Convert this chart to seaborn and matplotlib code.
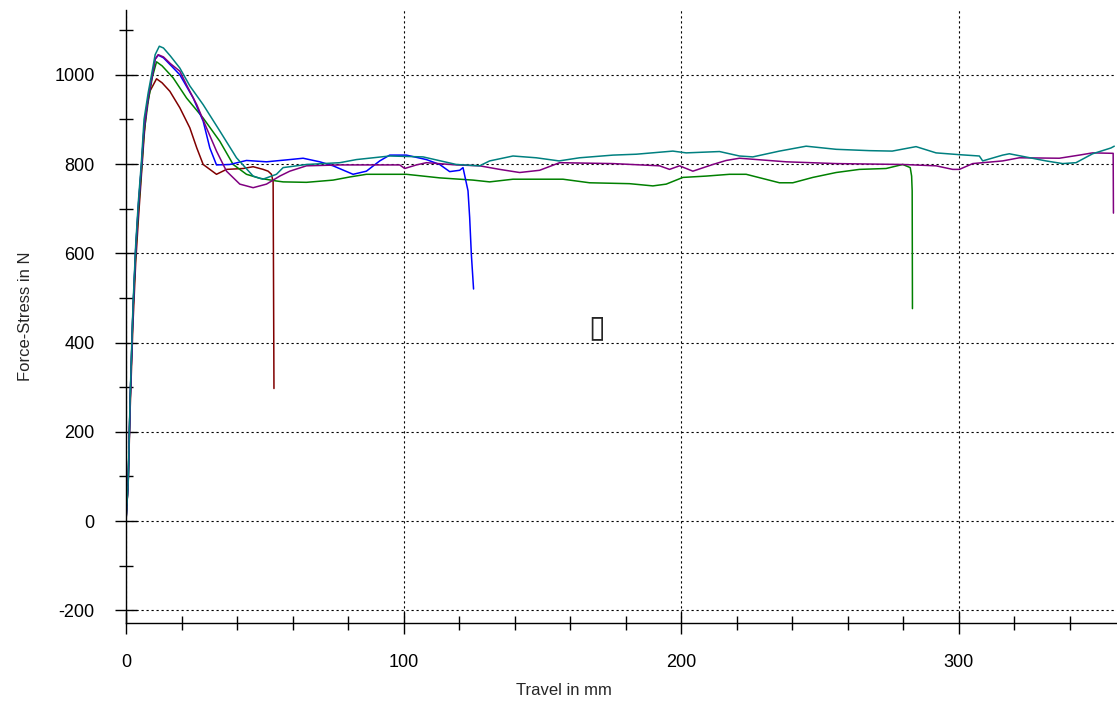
import numpy as np
import pandas as pd
import matplotlib
matplotlib.use('Agg')
import matplotlib.pyplot as plt
import seaborn as sns
from matplotlib.ticker import MultipleLocator

# travel (mm) / force (N), one pair of lists per sample
teal_x = [0, 0.8, 1.5, 2.5, 3.5, 4.5, 5.5, 6.5, 8, 9.2, 10.5, 12, 13.5, 16, 19.4, 23, 27.8, 33.8, 39.8,
          45.8, 49.3, 54.2, 56.6, 65, 77, 83, 95, 107, 119, 127.4, 131, 139.4, 147.8, 156, 163.4, 175.4,
          183.8, 197, 201.8, 213.8, 221, 225.8, 235.4, 245, 255.8, 267.8, 276, 284.6, 291.8, 300.2,
          307.4, 308.6, 315.8, 318.2, 331.4, 337.4, 342.2, 348.2, 354.8, 356]
teal_y = [0, 90, 280, 480, 620, 720, 800, 900, 960, 1000, 1045, 1064, 1060, 1042, 1015, 975, 933, 874, 814,
          773, 766, 777, 792, 799, 803, 810, 818, 816, 799, 796, 807, 818, 814, 807, 814, 820,
          822, 829, 825, 828, 818, 816, 829, 840, 833, 830, 829, 839, 825, 821,
          818, 807, 820, 823, 807, 801, 803, 823, 836, 840]

purple_x = [0, 0.8, 1.5, 2.5, 3.5, 4.5, 5.5, 6.5, 8, 9.5, 10.5, 11.6, 13.5, 16, 19.4, 22, 25.5, 29, 32.6,
            36.2, 41, 45.8, 50.6, 55.4, 59, 65, 77, 89, 98.6, 100.4, 104.6, 108.2, 119, 127.4, 134.6,
            141.8, 149, 156.2, 175.4, 192.2, 195.8, 199.4, 204.2, 211.4, 216.2, 221, 237.8, 255.8,
            279.8, 291.8, 297.8, 300.2, 305, 315.8, 321.8, 336.2, 343.4, 348.2, 355.6, 355.7]
purple_y = [0, 90, 270, 470, 610, 710, 790, 880, 950, 1000, 1035, 1045, 1040, 1025, 1008, 975, 933, 881, 829,
            784, 755, 747, 755, 773, 784, 796, 798, 798, 798, 790, 798, 803, 798, 796, 788,
            781, 786, 803, 801, 796, 788, 796, 784, 799, 808, 813, 805, 801,
            799, 796, 788, 788, 801, 807, 814, 813, 820, 825, 824, 690]

blue_x = [0, 0.8, 1.5, 2.5, 3.5, 4.5, 5.5, 6.5, 8, 9.5, 10.5, 11.6, 13.5, 16, 19.4, 24.2, 27.8, 30.2, 32.6,
          37.4, 43.4, 50.6, 59, 63.8, 69.8, 74.6, 81.8, 86.6, 91.4, 95, 101, 108.2, 113, 116.6, 120.2,
          121.4, 123.2, 123.8, 124.4, 125.2]
blue_y = [0, 90, 270, 470, 610, 710, 790, 880, 950, 1000, 1035, 1044, 1038, 1022, 1000, 948, 896, 836, 798,
          799, 808, 805, 810, 813, 805, 796, 777, 784, 807, 820, 820, 810, 799, 783, 786,
          792, 740, 680, 598, 520]

green_x = [0, 0.8, 1.5, 2.5, 3.5, 4.5, 5.5, 6.5, 8, 9.5, 11, 13, 17, 21.8, 27.8, 33.8, 38.6, 43.4, 48.2,
           54.2, 56.6, 65, 74.6, 80.6, 86.6, 101, 113, 125, 131, 139.4, 157.4, 167, 181.4, 189.8, 194.6,
           200.6, 209, 217.4, 223.4, 235.4, 240.2, 247.4, 255.8, 264.2, 273.8, 279.8, 282.5, 283,
           283.2, 283.3]
green_y = [0, 90, 270, 470, 600, 700, 780, 870, 940, 995, 1029, 1020, 993, 948, 903, 851, 799, 777, 768,
           762, 760, 759, 764, 771, 777, 777, 769, 764, 760, 766, 766, 758, 756, 751, 755,
           770, 773, 777, 777, 758, 758, 770, 781, 788, 790, 799, 792, 773,
           740, 476]

red_x = [0, 0.8, 1.5, 2.5, 3.5, 4.5, 5.5, 6.5, 7.4, 8.6, 11, 13, 15.8, 19.4, 23, 25.5, 27.8, 32.6, 36.2,
         42.2, 45.8, 49.4, 51.2, 52.4, 53, 53.3]
red_y = [0, 85, 250, 440, 580, 680, 770, 860, 926, 963, 991, 982, 963, 926, 881, 836, 799, 777, 788,
         790, 794, 788, 784, 777, 760, 297]

samples = ['red', 'green', 'blue', 'purple', 'teal']
colors = {'red': '#800000', 'green': '#008000', 'blue': '#0000FF',
          'purple': '#800080', 'teal': '#008080'}
series = {'red': (red_x, red_y), 'green': (green_x, green_y), 'blue': (blue_x, blue_y),
          'purple': (purple_x, purple_y), 'teal': (teal_x, teal_y)}

frames = []
for s in samples:
    xs, ys = series[s]
    frames.append(pd.DataFrame({'travel': xs, 'force': ys, 'sample': s}))
df = pd.concat(frames, ignore_index=True)

sns.set_style('white')
plt.rcParams['font.family'] = ['Liberation Sans', 'DejaVu Sans']
plt.rcParams['axes.unicode_minus'] = False

fig = plt.figure(figsize=(11.17, 7.04), dpi=100)
ax = fig.add_axes([0.1128, 0.115, 0.886, 0.8707])

sns.lineplot(data=df, x='travel', y='force', hue='sample', palette=colors, units='sample',
             estimator=None, sort=False, legend=False, linewidth=1.1, ax=ax)

ax.set_xlim(0, 356.5)
ax.set_ylim(-228.5, 1145)

ax.xaxis.set_major_locator(MultipleLocator(100))
ax.xaxis.set_minor_locator(MultipleLocator(20))
ax.yaxis.set_major_locator(MultipleLocator(200))
ax.yaxis.set_minor_locator(MultipleLocator(100))

ax.grid(True, which='major', color='black', linestyle=(0, (2, 2.5)), linewidth=0.8)
ax.set_axisbelow(True)

for side in ['top', 'right']:
    ax.spines[side].set_visible(False)
for side in ['left', 'bottom']:
    ax.spines[side].set_color('black')
    ax.spines[side].set_linewidth(1.0)

ax.tick_params(axis='both', which='major', direction='inout', length=16, width=1.0,
               color='black', labelsize=13, labelcolor='black', pad=14.5)
ax.tick_params(axis='both', which='minor', direction='inout', length=10.5, width=1.0, color='black')
ax.tick_params(axis='x', which='both', bottom=True)
ax.tick_params(axis='y', which='both', left=True)

ax.set_xlabel('Travel in mm', fontsize=12)
ax.set_ylabel('Force-Stress in N', fontsize=12)
ax.xaxis.set_label_coords(0.443, -0.098)
ax.yaxis.set_label_coords(-0.094, 0.5)

# stray glyph box drawn in the middle of the plot
ax.text(169.6, 400, '\u25af', fontsize=22, ha='center', va='bottom', family=['DejaVu Sans'])

fig.savefig('out.png', dpi=100)
